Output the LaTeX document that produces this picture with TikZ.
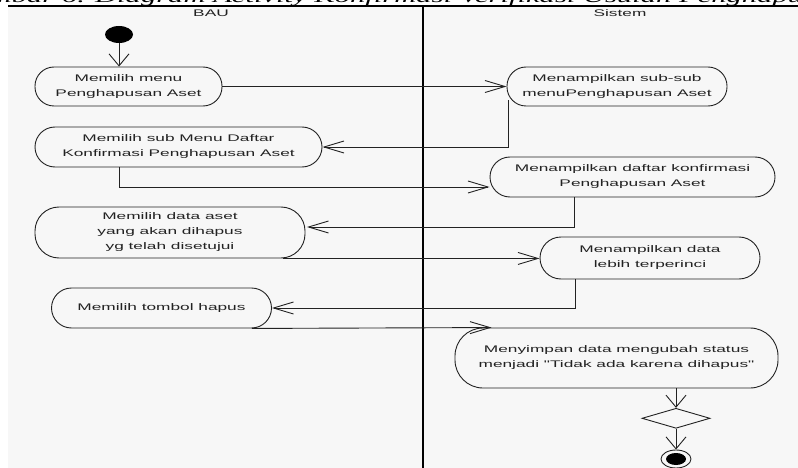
\documentclass[tikz,border=0pt]{standalone}
\usepackage{fontspec}
\usetikzlibrary{arrows.meta,shapes.geometric,calc}
\newfontfamily\umlfont[FakeStretch=1.8]{Liberation Sans}
\newfontfamily\capfont[FakeStretch=1.8]{Liberation Serif}
\definecolor{lanebg}{HTML}{F7F7F7}
\definecolor{ink}{HTML}{222222}

\begin{document}
\begin{tikzpicture}[x=1pt,y=-1pt,
  act/.style={draw=ink,line width=0.9pt,align=center,inner sep=0pt,
    font=\umlfont\fontsize{9.6}{15}\selectfont,text=ink},
  head/.style={font=\umlfont\fontsize{9.6}{12}\selectfont,text=ink,inner sep=0pt},
  flow/.style={draw=ink,line width=0.9pt},
  harr/.style={flow,-{Straight Barb[length=20pt,width=12pt]}},
  varr/.style={flow,-{Straight Barb[length=12pt,width=20pt]}},
]
\useasboundingbox (0,0) rectangle (798,468);

% caption line, only its lowest strip lies inside the page
\begin{scope}
  \clip (0,0) rectangle (798,6);
  \node[anchor=south,font=\capfont\itshape\fontsize{17}{17}\selectfont,inner sep=0pt,text=black]
    (cap) at (399,6.5) {Gambar 6. Diagram Activity Konfirmasi Verifikasi Usulan Penghapusan};
\end{scope}

% swimlanes
\fill[lanebg] (8,6) rectangle (798,468);
\draw[line width=1.1pt,black] (8,6) -- (798,6);
\draw[line width=1.1pt,black] (423,6) -- (423,468);
\node[head] (hbau) at (211,13) {BAU};
\node[head] (hsis) at (620,13) {Sistem};

% start / end
\node[ellipse,fill=black,minimum width=28pt,minimum height=17pt,inner sep=0pt] (start) at (119,34.5) {};
\node[ellipse,draw=ink,line width=0.9pt,fill=lanebg,minimum width=30pt,minimum height=18pt,inner sep=0pt] (fin) at (676,459) {};
\fill[black] (fin.center) ellipse [x radius=10pt,y radius=6pt];

% activities
\node[act,minimum width=187pt,minimum height=39pt,rounded corners=19pt] (n1) at (128.5,86.5) {Memilih menu\\Penghapusan Aset};
\node[act,minimum width=287pt,minimum height=40pt,rounded corners=20pt] (n2) at (178.5,147) {Memilih sub Menu Daftar\\Konfirmasi Penghapusan Aset};
\node[act,minimum width=220pt,minimum height=39pt,rounded corners=19pt] (n3) at (617,86.5) {Menampilkan sub-sub\\menuPenghapusan Aset};
\node[act,minimum width=285pt,minimum height=40pt,rounded corners=20pt] (n4) at (632.5,177) {Menampilkan daftar konfirmasi\\Penghapusan Aset};
\node[act,minimum width=270pt,minimum height=51pt,rounded corners=24pt] (n5) at (170,232.5) {Memilih data aset\\yang akan dihapus\\yg telah disetujui};
\node[act,minimum width=220pt,minimum height=42pt,rounded corners=21pt] (n6) at (650,258) {Menampilkan data\\lebih terperinci};
\node[act,minimum width=220pt,minimum height=40pt,rounded corners=20pt] (n7) at (161.5,308) {Memilih tombol hapus};
\node[act,minimum width=323pt,minimum height=60pt,rounded corners=28pt] (n8) at (616.5,358) {Menyimpan data mengubah status\\menjadi "Tidak ada karena dihapus"};
\node[diamond,draw=ink,line width=0.9pt,minimum width=68pt,minimum height=20pt,inner sep=0pt] (dec) at (676,418.3) {};

% flows
\draw[varr] (start.south) -- (start.south |- n1.north);
\draw[harr] (n1.east) -- (n3.west);
\draw[harr] ($(n3.west)+(2,14)$) |- (n2.east);
\draw[harr] ($(n2.south west)+(85,0)$) |- ($(n4.west)+(0,10)$);
\draw[harr] ($(n4.south west)+(85,0)$) |- ($(n5.east)+(1.5,-5.5)$);
\draw[harr] ($(n5.south east)+(-22,0)$) -- (n6.west |- n5.south);
\draw[harr] ($(n6.south west)+(36,0)$) |- (n7.east);
\draw[harr] ($(n7.south east)+(-20,0)$) -- ($(n8.north west)+(37,0)$);
\draw[varr] (dec.north |- n8.south) -- (dec.north);
\draw[varr] (dec.south) -- (fin.north);
\end{tikzpicture}
\end{document}
